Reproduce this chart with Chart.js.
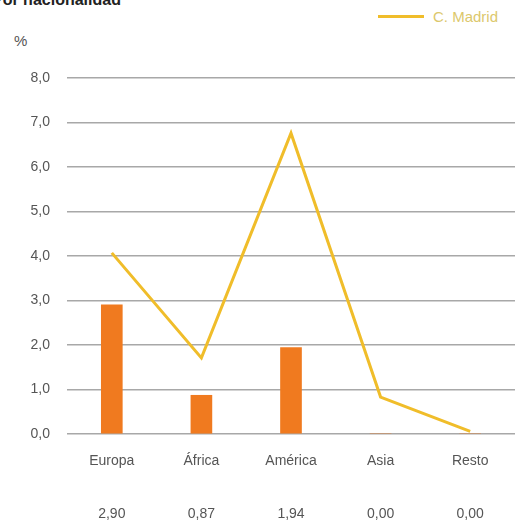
<!DOCTYPE html>
<html>
<head>
<meta charset="utf-8">
<script src="https://cdn.jsdelivr.net/npm/chart.js@4"></script>
<style>
  html, body { margin: 0; padding: 0; background: #fff; }
  #wrap { position: relative; width: 522px; height: 522px; overflow: hidden; font-family: "Liberation Sans", Arial, sans-serif; }
  #title { position: absolute; left: -8px; top: -9px; font-size: 16px; font-weight: bold; color: #222; }
  #unit { position: absolute; left: 14px; top: 32px; font-size: 15px; color: #555; }
  #legend { position: absolute; left: 378px; top: 8px; font-size: 15px; color: #dcc86c; display: flex; align-items: center; }
  #legend span.sw { display: inline-block; width: 46px; height: 3px; background: #f0bd2a; margin-right: 9px; }
  canvas { position: absolute; left: 0; top: 0; }
</style>
</head>
<body>
<div id="wrap">
  <div id="title">Por nacionalidad</div>
  <div id="unit">%</div>
  <div id="legend"><span class="sw"></span>C. Madrid</div>
  <canvas id="chart" width="522" height="522"></canvas>
</div>
<script>
var regions = ['Europa', 'África', 'América', 'Asia', 'Resto'];
var shares = [2.90, 0.87, 1.94, 0.00, 0.00];
var madrid = [4.07, 1.71, 6.76, 0.83, 0.06];
var yTicks = [0, 1, 2, 3, 4, 5, 6, 7, 8];

function fmt(v, d) {
    return v.toFixed(d).replace('.', ',');
}

var ctx = document.getElementById('chart').getContext('2d');
var chart = new Chart(ctx, {
    type: 'bar',
    data: {
        labels: regions,
        datasets: [
            {
                type: 'line',
                label: 'C. Madrid',
                data: madrid,
                borderColor: '#f0bd2a',
                borderWidth: 3,
                pointRadius: 0,
                tension: 0,
                order: 0
            },
            {
                type: 'bar',
                label: 'Ciudad',
                data: shares,
                backgroundColor: '#f07a1f',
                barThickness: 21,
                order: 1
            }
        ]
    },
    options: {
        responsive: false,
        animation: false,
        layout: { padding: { top: 78, right: 7, bottom: 0, left: 0 } },
        plugins: {
            legend: { display: false },
            tooltip: { enabled: false }
        },
        scales: {
            x: {
                grid: { display: false },
                border: { display: false },
                ticks: {
                    color: '#555',
                    padding: 10,
                    font: { family: '"Liberation Sans", Arial, sans-serif', size: 14, lineHeight: 1.26 },
                    callback: function(value, index) {
                        return [regions[index], '', '', fmt(shares[index], 2)];
                    }
                },
                afterFit: function(scale) { scale.height = 88; }
            },
            y: {
                min: yTicks[0],
                max: yTicks[yTicks.length - 1],
                border: { display: false },
                grid: { color: '#a8a8a8', lineWidth: 1.5, drawTicks: false },
                afterBuildTicks: function(scale) {
                    scale.ticks = yTicks.map(function(v) { return { value: v }; });
                },
                ticks: {
                    color: '#555',
                    padding: 17,
                    font: { family: '"Liberation Sans", Arial, sans-serif', size: 14 },
                    callback: function(value) { return fmt(value, 1); }
                },
                afterFit: function(scale) { scale.width = 67; }
            }
        }
    }
});
</script>
</body>
</html>
